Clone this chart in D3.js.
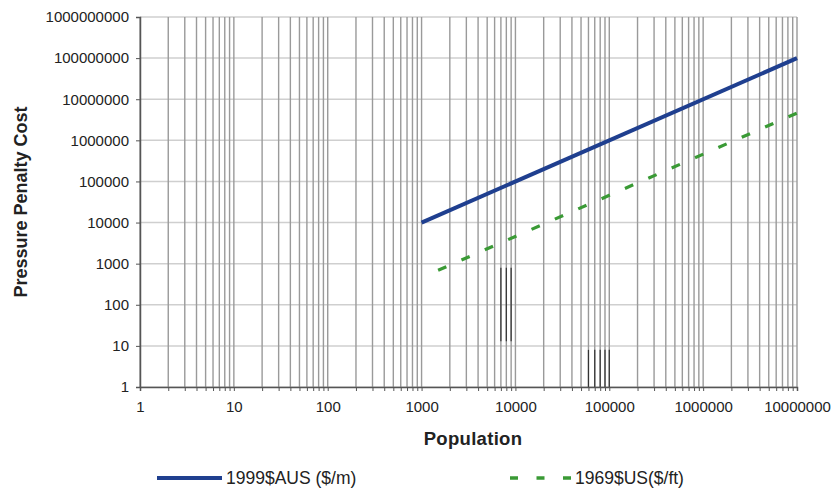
<!DOCTYPE html>
<html>
<head>
<meta charset="utf-8">
<script src="https://cdn.jsdelivr.net/npm/d3@7"></script>
<style>
  html, body { margin: 0; padding: 0; background: #fff; }
  svg { display: block; font-family: "Liberation Sans", Arial, sans-serif; }
</style>
</head>
<body>
<svg id="chart" width="835" height="488"></svg>
<script>
// Pressure penalty cost versus population (log–log)
const xTickValues = [1, 10, 100, 1000, 10000, 100000, 1000000, 10000000];
const yTickValues = [1, 10, 100, 1000, 10000, 100000, 1000000, 10000000, 100000000, 1000000000];

const seriesNames = ["1999$AUS ($/m)", "1969$US($/ft)"];
const ausPopulation = [1000, 10000000];
const ausCost = [10000, 100000000];
const usPopulation = [1500, 10000000];
const usCost = [690, 4600000];

// darker stretches of a few grid lines (population, cost from, cost to)
const darkGridPop = [7000, 8000, 9000, 60000, 70000, 80000, 90000, 100000];
const darkGridFrom = [13, 13, 13, 1, 1, 1, 1, 1];
const darkGridTo = [800, 800, 800, 8, 8, 8, 8, 8];

const svg = d3.select("#chart");
const margin = { left: 140, right: 38, top: 17, bottom: 101 };
const W = 835, H = 488;

const x = d3.scaleLog().domain([1, 1e7]).range([margin.left, W - margin.right]);
const y = d3.scaleLog().domain([1, 1e9]).range([H - margin.bottom, margin.top]);

const textColor = "#222";
const blue = "#1f3f8f";
const green = "#3a9a35";

// horizontal grid at decades
svg.append("g").selectAll("line").data(yTickValues).join("line")
  .attr("x1", x(1)).attr("x2", x(1e7))
  .attr("y1", d => y(d)).attr("y2", d => y(d))
  .attr("stroke", "#cfcfcf").attr("stroke-width", 1.5);

// vertical grid at every 1..9 × decade
const minorX = [];
for (let e = 0; e < 7; e++) for (let m = 1; m <= 9; m++) minorX.push(m * Math.pow(10, e));
minorX.push(1e7);
svg.append("g").selectAll("line").data(minorX).join("line")
  .attr("x1", d => x(d)).attr("x2", d => x(d))
  .attr("y1", y(1e9)).attr("y2", y(1))
  .attr("stroke", "#9a9a9a").attr("stroke-width", 1.4);

svg.append("g").selectAll("line").data(d3.range(darkGridPop.length)).join("line")
  .attr("x1", i => x(darkGridPop[i])).attr("x2", i => x(darkGridPop[i]))
  .attr("y1", i => y(darkGridFrom[i])).attr("y2", i => y(darkGridTo[i]))
  .attr("stroke", "#333").attr("stroke-width", 1.2);

// axes
const yAxis = d3.axisLeft(y).tickValues(yTickValues).tickFormat(d3.format("d")).tickSize(4).tickPadding(7);
const gy = svg.append("g").attr("transform", `translate(${x(1)},0)`).call(yAxis);
const xAxis = d3.axisBottom(x).tickValues(minorX).tickFormat(d => xTickValues.includes(d) ? d3.format("d")(d) : "").tickSize(4).tickPadding(10);
const gx = svg.append("g").attr("transform", `translate(0,${y(1)})`).call(xAxis);

[gx, gy].forEach(g => {
  g.select(".domain").attr("stroke", "#555").attr("stroke-width", 1.5);
  g.selectAll(".tick line").attr("stroke", "#555");
  g.selectAll(".tick text").attr("fill", textColor).attr("font-size", 15);
});

// series lines
const line = d3.line().x(d => x(d[0])).y(d => y(d[1]));
svg.append("path")
  .datum(d3.zip(ausPopulation, ausCost))
  .attr("d", line).attr("fill", "none")
  .attr("stroke", blue).attr("stroke-width", 4);
svg.append("path")
  .datum(d3.zip(usPopulation, usCost))
  .attr("d", line).attr("fill", "none")
  .attr("stroke", green).attr("stroke-width", 3.2)
  .attr("stroke-dasharray", "9,16.5");

// axis titles
svg.append("text")
  .attr("x", 473).attr("y", 445)
  .attr("text-anchor", "middle").attr("font-size", 18.5).attr("font-weight", "bold")
  .attr("letter-spacing", 0.3)
  .attr("fill", textColor).text("Population");
svg.append("text")
  .attr("transform", `translate(27,${(y(1) + y(1e9)) / 2}) rotate(-90)`)
  .attr("text-anchor", "middle").attr("font-size", 18).attr("font-weight", "bold")
  .attr("fill", textColor).text("Pressure Penalty Cost");

// legend
const legend = svg.append("g");
legend.append("line").attr("x1", 157).attr("x2", 222).attr("y1", 478).attr("y2", 478)
  .attr("stroke", blue).attr("stroke-width", 4);
legend.append("text").attr("x", 226).attr("y", 483.5).attr("font-size", 17.5).attr("fill", textColor).text(seriesNames[0]);
legend.append("line").attr("x1", 510).attr("x2", 572).attr("y1", 478).attr("y2", 478)
  .attr("stroke", green).attr("stroke-width", 3.5).attr("stroke-dasharray", "8,18.5");
legend.append("text").attr("x", 575).attr("y", 483.5).attr("font-size", 17.5).attr("fill", textColor).text(seriesNames[1]);
</script>
</body>
</html>
